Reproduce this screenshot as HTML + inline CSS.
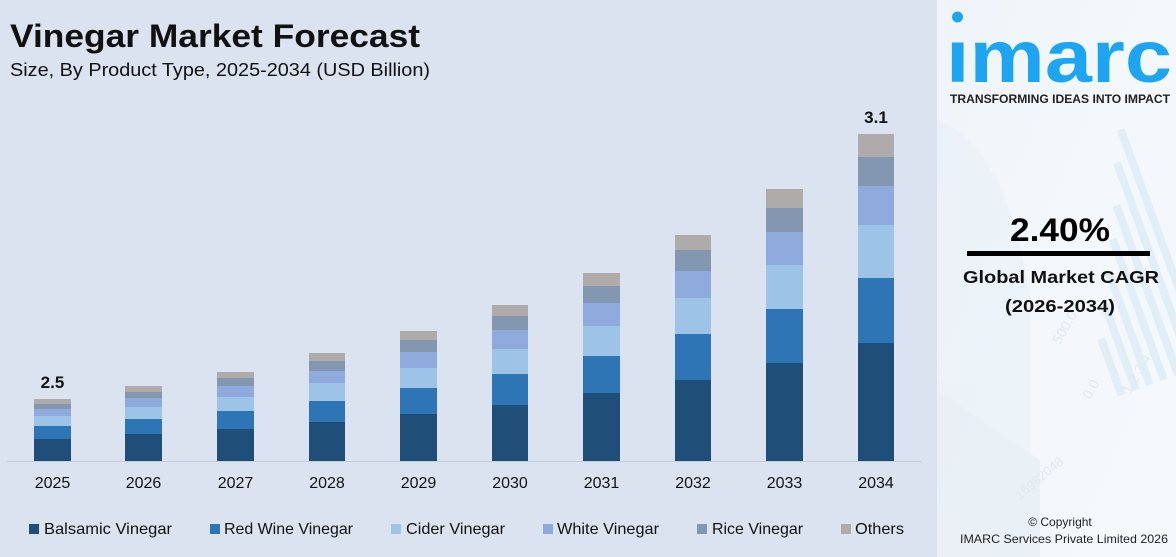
<!DOCTYPE html>
<html><head><meta charset="utf-8"><style>
html,body{margin:0;padding:0;width:1176px;height:557px;overflow:hidden;background:#dbe3f1}
svg{display:block}
text{font-family:"Liberation Sans",sans-serif}
</style></head><body>
<svg width="1176" height="557" viewBox="0 0 1176 557" xmlns="http://www.w3.org/2000/svg">
<defs>
<linearGradient id="rp" x1="0" y1="0" x2="1" y2="1">
<stop offset="0" stop-color="#eef4f9"/>
<stop offset="0.5" stop-color="#f3f8fc"/>
<stop offset="1" stop-color="#f6f9fc"/>
</linearGradient>
</defs>
<rect x="0" y="0" width="937" height="557" fill="#dbe3f1"/>
<rect x="937" y="0" width="239" height="557" fill="url(#rp)"/>
<!-- faint background imagery -->
<g opacity="0.5">
<path d="M937 120 Q1010 150 1030 300 L1030 557 L937 557 Z" fill="#e6f0f7"/>
<path d="M937 390 L1040 460 L1040 557 L937 557 Z" fill="#e0ebf3"/>
<g fill="#cfe5f3" transform="rotate(-20 1120 300)">
<rect x="1085" y="330" width="8" height="60"/>
<rect x="1100" y="300" width="8" height="90"/>
<rect x="1115" y="270" width="8" height="120"/>
<rect x="1130" y="240" width="8" height="150"/>
<rect x="1145" y="210" width="8" height="180"/>
<rect x="1160" y="170" width="8" height="220"/>
<rect x="1175" y="140" width="8" height="250"/>
</g>
<text x="1090" y="400" font-size="14" fill="#c9d9e6" transform="rotate(-60 1090 400)">0.0</text>
<text x="1060" y="345" font-size="14" fill="#c9d9e6" transform="rotate(-60 1060 345)">500.0</text>
<text x="1130" y="395" font-size="14" fill="#c9d9e6" transform="rotate(-60 1130 395)">1 2 3 4</text>
<text x="1020" y="500" font-size="13" fill="#c9d9e6" transform="rotate(-40 1020 500)">16982048</text>
</g>

<!-- Title -->
<text x="10" y="47" font-size="32" font-weight="bold" fill="#111" textLength="410" lengthAdjust="spacingAndGlyphs">Vinegar Market Forecast</text>
<text x="10" y="76" font-size="18" fill="#111" textLength="420" lengthAdjust="spacingAndGlyphs">Size, By Product Type, 2025-2034 (USD Billion)</text>

<!-- axis -->
<line x1="6" y1="461.5" x2="921" y2="461.5" stroke="#c6ccd6" stroke-width="1"/>

<!-- bars -->
<g>
<rect x="34" y="399" width="37" height="5" fill="#afabab"/><rect x="34" y="404" width="37" height="5" fill="#8497b0"/><rect x="34" y="409" width="37" height="7" fill="#8faadc"/><rect x="34" y="416" width="37" height="10" fill="#9dc3e6"/><rect x="34" y="426" width="37" height="13" fill="#2e75b6"/><rect x="34" y="439" width="37" height="22" fill="#1f4e79"/>
<rect x="125" y="386" width="37" height="6" fill="#afabab"/><rect x="125" y="392" width="37" height="6" fill="#8497b0"/><rect x="125" y="398" width="37" height="9" fill="#8faadc"/><rect x="125" y="407" width="37" height="12" fill="#9dc3e6"/><rect x="125" y="419" width="37" height="15" fill="#2e75b6"/><rect x="125" y="434" width="37" height="27" fill="#1f4e79"/>
<rect x="217" y="372" width="37" height="6" fill="#afabab"/><rect x="217" y="378" width="37" height="8" fill="#8497b0"/><rect x="217" y="386" width="37" height="11" fill="#8faadc"/><rect x="217" y="397" width="37" height="14" fill="#9dc3e6"/><rect x="217" y="411" width="37" height="18" fill="#2e75b6"/><rect x="217" y="429" width="37" height="32" fill="#1f4e79"/>
<rect x="309" y="353" width="36" height="8" fill="#afabab"/><rect x="309" y="361" width="36" height="10" fill="#8497b0"/><rect x="309" y="371" width="36" height="12" fill="#8faadc"/><rect x="309" y="383" width="36" height="18" fill="#9dc3e6"/><rect x="309" y="401" width="36" height="21" fill="#2e75b6"/><rect x="309" y="422" width="36" height="39" fill="#1f4e79"/>
<rect x="400" y="331" width="37" height="9" fill="#afabab"/><rect x="400" y="340" width="37" height="12" fill="#8497b0"/><rect x="400" y="352" width="37" height="16" fill="#8faadc"/><rect x="400" y="368" width="37" height="20" fill="#9dc3e6"/><rect x="400" y="388" width="37" height="26" fill="#2e75b6"/><rect x="400" y="414" width="37" height="47" fill="#1f4e79"/>
<rect x="492" y="305" width="36" height="11" fill="#afabab"/><rect x="492" y="316" width="36" height="14" fill="#8497b0"/><rect x="492" y="330" width="36" height="19" fill="#8faadc"/><rect x="492" y="349" width="36" height="25" fill="#9dc3e6"/><rect x="492" y="374" width="36" height="31" fill="#2e75b6"/><rect x="492" y="405" width="36" height="56" fill="#1f4e79"/>
<rect x="583" y="273" width="37" height="13" fill="#afabab"/><rect x="583" y="286" width="37" height="17" fill="#8497b0"/><rect x="583" y="303" width="37" height="23" fill="#8faadc"/><rect x="583" y="326" width="37" height="30" fill="#9dc3e6"/><rect x="583" y="356" width="37" height="37" fill="#2e75b6"/><rect x="583" y="393" width="37" height="68" fill="#1f4e79"/>
<rect x="675" y="235" width="36" height="15" fill="#afabab"/><rect x="675" y="250" width="36" height="21" fill="#8497b0"/><rect x="675" y="271" width="36" height="27" fill="#8faadc"/><rect x="675" y="298" width="36" height="36" fill="#9dc3e6"/><rect x="675" y="334" width="36" height="46" fill="#2e75b6"/><rect x="675" y="380" width="36" height="81" fill="#1f4e79"/>
<rect x="766" y="189" width="37" height="19" fill="#afabab"/><rect x="766" y="208" width="37" height="24" fill="#8497b0"/><rect x="766" y="232" width="37" height="33" fill="#8faadc"/><rect x="766" y="265" width="37" height="44" fill="#9dc3e6"/><rect x="766" y="309" width="37" height="54" fill="#2e75b6"/><rect x="766" y="363" width="37" height="98" fill="#1f4e79"/>
<rect x="858" y="134" width="36" height="23" fill="#afabab"/><rect x="858" y="157" width="36" height="29" fill="#8497b0"/><rect x="858" y="186" width="36" height="39" fill="#8faadc"/><rect x="858" y="225" width="36" height="53" fill="#9dc3e6"/><rect x="858" y="278" width="36" height="65" fill="#2e75b6"/><rect x="858" y="343" width="36" height="118" fill="#1f4e79"/>
</g>

<!-- value labels -->
<text x="52.5" y="388" font-size="17" font-weight="bold" fill="#111" text-anchor="middle">2.5</text>
<text x="876" y="123" font-size="17" font-weight="bold" fill="#111" text-anchor="middle">3.1</text>

<!-- year labels -->
<g font-size="16" fill="#111" text-anchor="middle">
<text x="52.5" y="488">2025</text>
<text x="143.5" y="488">2026</text>
<text x="235.5" y="488">2027</text>
<text x="327" y="488">2028</text>
<text x="418.5" y="488">2029</text>
<text x="510" y="488">2030</text>
<text x="601.5" y="488">2031</text>
<text x="693" y="488">2032</text>
<text x="784.5" y="488">2033</text>
<text x="876" y="488">2034</text>
</g>

<!-- legend -->
<g font-size="16" fill="#111">
<rect x="29" y="524" width="10" height="10" fill="#1f4e79"/>
<text x="44" y="534" textLength="128" lengthAdjust="spacingAndGlyphs">Balsamic Vinegar</text>
<rect x="210" y="524" width="10" height="10" fill="#2e75b6"/>
<text x="224" y="534" textLength="129" lengthAdjust="spacingAndGlyphs">Red Wine Vinegar</text>
<rect x="391" y="524" width="10" height="10" fill="#9dc3e6"/>
<text x="406" y="534" textLength="99" lengthAdjust="spacingAndGlyphs">Cider Vinegar</text>
<rect x="543" y="524" width="10" height="10" fill="#8faadc"/>
<text x="557" y="534" textLength="102" lengthAdjust="spacingAndGlyphs">White Vinegar</text>
<rect x="697" y="524" width="10" height="10" fill="#8497b0"/>
<text x="712" y="534" textLength="91" lengthAdjust="spacingAndGlyphs">Rice Vinegar</text>
<rect x="841" y="524" width="10" height="10" fill="#afabab"/>
<text x="855" y="534" textLength="49" lengthAdjust="spacingAndGlyphs">Others</text>
</g>

<!-- logo -->
<circle cx="957.5" cy="17" r="5.5" fill="#1ea5f2"/>
<svg x="940" y="42" width="236" height="44" overflow="hidden">
<text x="6" y="40" font-size="74" font-weight="bold" fill="#1ea5f2" textLength="226" lengthAdjust="spacingAndGlyphs">imarc</text>
</svg>
<text x="950" y="103" font-size="11.5" font-weight="bold" fill="#222" textLength="220" lengthAdjust="spacingAndGlyphs">TRANSFORMING IDEAS INTO IMPACT</text>

<!-- CAGR -->
<text x="1060" y="241" font-size="32" font-weight="bold" fill="#000" text-anchor="middle" textLength="100" lengthAdjust="spacingAndGlyphs">2.40%</text>
<rect x="967" y="251" width="183" height="5" fill="#000"/>
<text x="1061" y="283" font-size="17.5" font-weight="bold" fill="#111" text-anchor="middle" textLength="196" lengthAdjust="spacingAndGlyphs">Global Market CAGR</text>
<text x="1060" y="312" font-size="17.5" font-weight="bold" fill="#111" text-anchor="middle" textLength="110" lengthAdjust="spacingAndGlyphs">(2026-2034)</text>

<!-- copyright -->
<text x="1060" y="526" font-size="12" fill="#222" text-anchor="middle">© Copyright</text>
<text x="1064" y="543" font-size="12" fill="#222" text-anchor="middle" textLength="208" lengthAdjust="spacingAndGlyphs">IMARC Services Private Limited 2026</text>
</svg>
</body></html>
